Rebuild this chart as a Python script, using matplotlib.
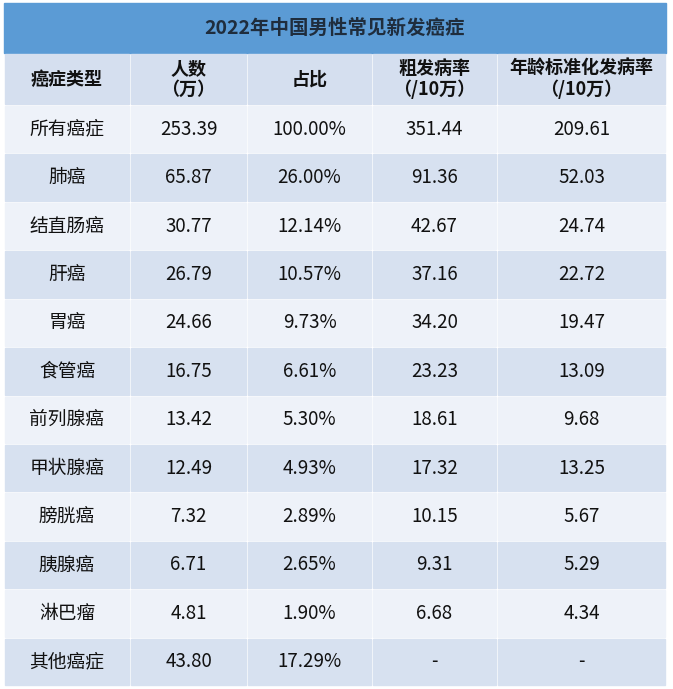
import matplotlib.pyplot as plt
from matplotlib.patches import Rectangle

plt.rcParams['font.family'] = 'Noto Sans CJK SC'

title = '2022年中国男性常见新发癌症'
headers = ['癌症类型', '人数\n（万）', '占比', '粗发病率\n（/10万）', '年龄标准化发病率\n（/10万）']
cancer = ['所有癌症', '肺癌', '结直肠癌', '肝癌', '胃癌', '食管癌', '前列腺癌',
          '甲状腺癌', '膀胱癌', '胰腺癌', '淋巴瘤', '其他癌症']
count = ['253.39', '65.87', '30.77', '26.79', '24.66', '16.75', '13.42',
         '12.49', '7.32', '6.71', '4.81', '43.80']
share = ['100.00%', '26.00%', '12.14%', '10.57%', '9.73%', '6.61%', '5.30%',
         '4.93%', '2.89%', '2.65%', '1.90%', '17.29%']
crude = ['351.44', '91.36', '42.67', '37.16', '34.20', '23.23', '18.61',
         '17.32', '10.15', '9.31', '6.68', '-']
asr = ['209.61', '52.03', '24.74', '22.72', '19.47', '13.09', '9.68',
       '13.25', '5.67', '5.29', '4.34', '-']

W, H = 673, 689
fig = plt.figure(figsize=(W / 100, H / 100), dpi=100)
ax = fig.add_axes([0, 0, 1, 1])
ax.set_xlim(0, W)
ax.set_ylim(H, 0)
ax.axis('off')

cols = [4, 130, 247, 372, 497, 666]
top_title, top_head, top_rows, bottom = 3, 53, 105, 686
row_h = (bottom - top_rows) / len(cancer)

ax.add_patch(Rectangle((cols[0], top_title), cols[-1] - cols[0], top_head - top_title,
                       color='#5b9bd5'))
ax.text((cols[0] + cols[-1]) / 2, (top_title + top_head) / 2, title,
        ha='center', va='center', fontsize=14, fontweight='bold', color='#1f2d3d')

def cell(i, y0, y1, color, txt, size=12, weight='normal'):
    ax.add_patch(Rectangle((cols[i] + 1, y0 + 1), cols[i + 1] - cols[i] - 2, y1 - y0 - 2,
                           color=color))
    ax.text((cols[i] + cols[i + 1]) / 2, (y0 + y1) / 2, txt, ha='center', va='center',
            fontsize=size, fontweight=weight, color='#111111', linespacing=1.15)

for i, h in enumerate(headers):
    cell(i, top_head, top_rows, '#d5dfef', h, 13, 'bold')

for r in range(len(cancer)):
    y0 = top_rows + r * row_h
    c = '#eef2f9' if r % 2 == 0 else '#d7e1f0'
    vals = [cancer[r], count[r], share[r], crude[r], asr[r]]
    for i, v in enumerate(vals):
        cell(i, y0, y0 + row_h, c, v, 13.5, 'medium')

fig.savefig('out.png', dpi=100, facecolor='white')
